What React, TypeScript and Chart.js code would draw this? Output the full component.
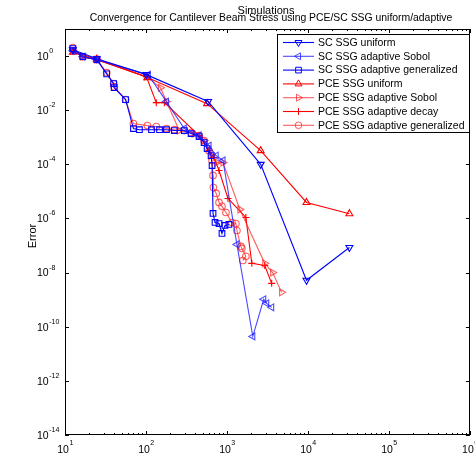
import React, { useEffect, useRef } from 'react';
import { Chart, registerables } from 'chart.js';
Chart.register(...registerables);

const scUniformX = [12.5, 24.7, 101, 585, 2610, 9600, 32500];
const scUniformY = [1.7, 0.8, 0.206, 0.021, 1.0e-4, 5.2e-9, 8.5e-8];

const scSobolX = [12.5, 16.6, 24.7, 107, 179, 297, 453, 601, 736, 893, 1327, 2085, 2844, 3096, 3565];
const scSobolY = [1.58, 0.95, 0.74, 0.206, 0.0208, 0.0021, 0.00116, 4.9e-4, 2.1e-4, 1.4e-4, 1.1e-7, 4.4e-11, 1.03e-9, 7.3e-10, 5.2e-10];

const scGenX = [12.5, 16.6, 24.7, 32.7, 39.9, 40.5, 56, 70, 83, 117, 147, 179, 224, 297, 361, 453, 522, 569, 637, 655, 673, 712, 798, 868, 945, 1058];
const scGenY = [1.88, 0.95, 0.74, 0.22, 0.096, 0.068, 0.0246, 0.0021, 0.0019, 0.0019, 0.0019, 0.0019, 0.00177, 0.00177, 0.00137, 0.00106, 6.4e-4, 3.8e-4, 2.1e-4, 9.0e-5, 1.53e-6, 7.1e-7, 6.5e-7, 2.8e-7, 5.5e-7, 6.0e-7];

const pceUniformX = [12.5, 24.7, 104, 569, 2610, 9600, 32500];
const pceUniformY = [1.4, 0.78, 0.16, 0.0175, 3.2e-4, 3.9e-6, 1.5e-6];

const pceSobolX = [12.5, 16.6, 24.7, 101, 151, 179, 258, 394, 522, 637, 754, 893, 1445, 2926, 3668, 4728];
const pceSobolY = [1.58, 0.95, 0.74, 0.174, 0.068, 0.0208, 0.00177, 0.00137, 7.6e-4, 2.1e-4, 1.16e-4, 1.16e-4, 2.15e-6, 2.2e-8, 1.0e-8, 1.86e-9];

const pceDecayX = [12.5, 16.6, 24.7, 101, 134, 169, 453, 601, 692, 798, 1029, 1711, 2027, 2926, 3565];
const pceDecayY = [1.58, 0.95, 0.74, 0.174, 0.019, 0.019, 0.00116, 3.2e-4, 1.78e-4, 5.9e-5, 5.5e-6, 1.09e-6, 2.2e-8, 1.84e-8, 4.0e-9];

const pceGenX = [12.5, 16.6, 24.7, 32.7, 39.9, 40.5, 56, 70, 104, 134, 179, 224, 297, 361, 453, 522, 601, 655, 673, 680, 736, 798, 868, 972, 1152, 1289, 1327, 1486, 1528, 1711, 1572];
const pceGenY = [2.04, 0.95, 0.74, 0.244, 0.096, 0.074, 0.0246, 0.0032, 0.0027, 0.0025, 0.0021, 0.0019, 0.00177, 0.0015, 0.00116, 7.6e-4, 3.2e-4, 1.4e-4, 3.9e-5, 1.39e-5, 8.4e-6, 3.9e-6, 2.8e-6, 1.66e-6, 7.1e-7, 6.5e-7, 3.6e-7, 9.3e-8, 7.8e-8, 4.0e-8, 2.8e-8];

const seriesLabels = [
  'SC SSG uniform',
  'SC SSG adaptive Sobol',
  'SC SSG adaptive generalized',
  'PCE SSG uniform',
  'PCE SSG adaptive Sobol',
  'PCE SSG adaptive decay',
  'PCE SSG adaptive generalized',
];

const xTickExps = [1, 2, 3, 4, 5, 6];
const yTickExps = [-14, -12, -10, -8, -6, -4, -2, 0];

const titleText = 'Simulations';
const subtitleText = 'Convergence for Cantilever Beam Stress using PCE/SC SSG uniform/adaptive';
const yAxisTitle = 'Error';

const FONT = '"Liberation Sans", Arial, sans-serif';

function zip(xs: number[], ys: number[]) {
  return xs.map((x, i) => ({ x, y: ys[i] }));
}

function drawMarker(ctx: CanvasRenderingContext2D, style: string, x: number, y: number, r: number, rotDeg: number, color: string) {
  ctx.save();
  ctx.strokeStyle = color;
  ctx.lineWidth = 1;
  ctx.beginPath();
  let rad = (rotDeg * Math.PI) / 180;
  if (style === 'triangle') {
    for (let i = 0; i < 3; i++) {
      const px = x + Math.sin(rad) * r;
      const py = y - Math.cos(rad) * r;
      if (i === 0) ctx.moveTo(px, py);
      else ctx.lineTo(px, py);
      rad += (2 * Math.PI) / 3;
    }
    ctx.closePath();
  } else if (style === 'rect') {
    const s = Math.SQRT1_2 * r;
    ctx.rect(x - s, y - s, 2 * s, 2 * s);
  } else if (style === 'circle') {
    ctx.arc(x, y, r, 0, Math.PI * 2);
  } else if (style === 'cross') {
    ctx.moveTo(x - r, y);
    ctx.lineTo(x + r, y);
    ctx.moveTo(x, y - r);
    ctx.lineTo(x, y + r);
  }
  ctx.stroke();
  ctx.restore();
}

export default function App() {
  const canvasRef = useRef<HTMLCanvasElement | null>(null);

  useEffect(() => {
    const canvas = canvasRef.current;
    if (!canvas) return;

    const blue = '#0000ff';
    const blueLight = 'rgba(30,30,255,0.8)';
    const red = '#ff0000';
    const redLight = 'rgba(255,30,30,0.72)';

    const specs = [
      { xs: scUniformX, ys: scUniformY, color: blue, style: 'triangle', rot: 180, r: 4 },
      { xs: scSobolX, ys: scSobolY, color: blueLight, style: 'triangle', rot: 270, r: 4 },
      { xs: scGenX, ys: scGenY, color: blue, style: 'rect', rot: 0, r: 4 },
      { xs: pceUniformX, ys: pceUniformY, color: red, style: 'triangle', rot: 0, r: 4 },
      { xs: pceSobolX, ys: pceSobolY, color: redLight, style: 'triangle', rot: 90, r: 4 },
      { xs: pceDecayX, ys: pceDecayY, color: red, style: 'cross', rot: 0, r: 3.5 },
      { xs: pceGenX, ys: pceGenY, color: redLight, style: 'circle', rot: 0, r: 3.3 },
    ];

    const datasets = specs.map((s, i) => ({
      label: seriesLabels[i],
      data: zip(s.xs, s.ys),
      showLine: true,
      borderColor: s.color,
      borderWidth: 1.1,
      backgroundColor: 'rgba(0,0,0,0)',
      pointStyle: s.style as any,
      pointRotation: s.rot,
      pointRadius: s.r,
      pointBorderColor: s.color,
      pointBorderWidth: 1.1,
      pointBackgroundColor: 'rgba(0,0,0,0)',
      tension: 0,
    }));

    const decor = {
      id: 'decor',
      afterDraw(chart: any) {
        const ctx: CanvasRenderingContext2D = chart.ctx;
        const { left, right, top, bottom } = chart.chartArea;
        const xs = chart.scales.x;
        const ys = chart.scales.y;
        ctx.save();
        ctx.strokeStyle = '#000';
        ctx.lineWidth = 1;
        ctx.strokeRect(Math.round(left) + 0.5, Math.round(top) + 0.5, Math.round(right - left) - 1, Math.round(bottom - top) - 1);

        ctx.beginPath();
        for (let d = 1; d <= 6; d++) {
          const px = Math.round(xs.getPixelForValue(Math.pow(10, d))) + 0.5;
          ctx.moveTo(px, bottom);
          ctx.lineTo(px, bottom - 4);
          ctx.moveTo(px, top);
          ctx.lineTo(px, top + 4);
          if (d < 6) {
            for (let k = 2; k <= 9; k++) {
              const mx = Math.round(xs.getPixelForValue(k * Math.pow(10, d))) + 0.5;
              ctx.moveTo(mx, bottom);
              ctx.lineTo(mx, bottom - 2);
              ctx.moveTo(mx, top);
              ctx.lineTo(mx, top + 2);
            }
          }
        }
        for (const e of yTickExps) {
          const py = Math.round(ys.getPixelForValue(Math.pow(10, e))) + 0.5;
          ctx.moveTo(left, py);
          ctx.lineTo(left + 4, py);
          ctx.moveTo(right, py);
          ctx.lineTo(right - 4, py);
        }
        ctx.stroke();

        ctx.fillStyle = '#000';
        ctx.textBaseline = 'middle';
        for (const e of xTickExps) {
          const px = xs.getPixelForValue(Math.pow(10, e));
          ctx.font = `10.5px ${FONT}`;
          const w1 = ctx.measureText('10').width;
          ctx.font = `7px ${FONT}`;
          const w2 = ctx.measureText(String(e)).width;
          const x0 = px - (w1 + w2) / 2;
          ctx.font = `10.5px ${FONT}`;
          ctx.textAlign = 'left';
          ctx.fillText('10', x0, 450);
          ctx.font = `7px ${FONT}`;
          ctx.fillText(String(e), x0 + w1 + 0.5, 443);
        }
        for (const e of yTickExps) {
          const py = ys.getPixelForValue(Math.pow(10, e));
          ctx.font = `10.5px ${FONT}`;
          ctx.textAlign = 'left';
          const w1 = ctx.measureText('10').width;
          ctx.fillText('10', 37, py + 1);
          ctx.font = `7px ${FONT}`;
          ctx.fillText(String(e), 37 + w1 + 0.5, py - 5);
        }

        ctx.textAlign = 'center';
        ctx.textBaseline = 'alphabetic';
        ctx.font = `11px ${FONT}`;
        ctx.fillText(titleText, 266, 14);
        ctx.font = `10.4px ${FONT}`;
        ctx.fillText(subtitleText, 271, 21);

        ctx.save();
        ctx.translate(33, 236);
        ctx.rotate(-Math.PI / 2);
        ctx.textAlign = 'center';
        ctx.textBaseline = 'middle';
        ctx.font = `11px ${FONT}`;
        ctx.fillText(yAxisTitle, 0, 0);
        ctx.restore();

        const lx = 277.5, ly = 34.5, lw = 192, lh = 98;
        ctx.fillStyle = '#fff';
        ctx.fillRect(lx, ly, lw, lh);
        ctx.strokeStyle = '#000';
        ctx.lineWidth = 1;
        ctx.strokeRect(lx, ly, lw, lh);
        for (let i = 0; i < specs.length; i++) {
          const s = specs[i];
          const ry = 42.5 + i * 13.8;
          ctx.strokeStyle = s.color;
          ctx.lineWidth = 1.1;
          ctx.beginPath();
          ctx.moveTo(283, ry);
          ctx.lineTo(314, ry);
          ctx.stroke();
          drawMarker(ctx, s.style, 298.5, ry, s.r, s.rot, s.color);
          ctx.fillStyle = '#000';
          ctx.font = `10.5px ${FONT}`;
          ctx.textAlign = 'left';
          ctx.textBaseline = 'middle';
          ctx.fillText(seriesLabels[i], 318, ry + 0.5);
        }
        ctx.restore();
      },
    };

    const chart = new Chart(canvas, {
      type: 'scatter',
      data: { datasets: datasets as any },
      options: {
        animation: false,
        responsive: false,
        maintainAspectRatio: false,
        layout: { padding: { left: 65, right: 2, top: 29, bottom: 18 } },
        plugins: { legend: { display: false }, tooltip: { enabled: false }, title: { display: false } },
        scales: {
          x: { type: 'logarithmic', min: 10, max: 1e6, display: false },
          y: { type: 'logarithmic', min: 1e-14, max: 10, display: false },
        },
      },
      plugins: [decor],
    });
    return () => chart.destroy();
  }, []);

  return (
    <div style={{ position: 'fixed', left: 0, top: 0, width: 475, height: 453, background: '#fff' }}>
      <canvas ref={canvasRef} width={475} height={453} style={{ width: 475, height: 453 }} />
    </div>
  );
}
